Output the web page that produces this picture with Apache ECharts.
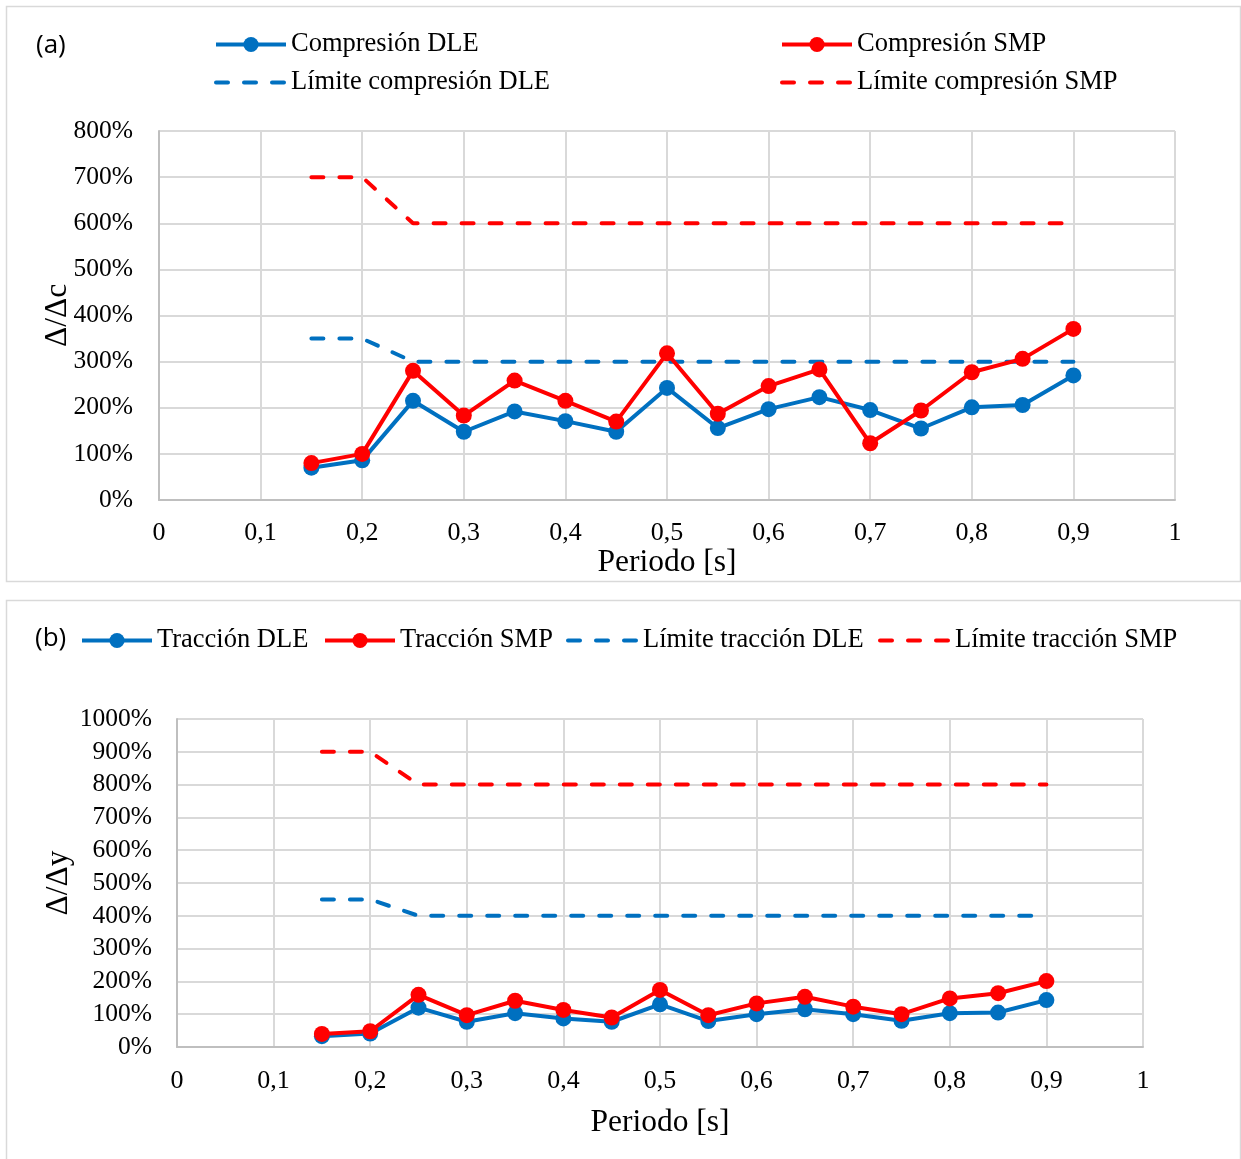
<!DOCTYPE html>
<html>
<head>
<meta charset="utf-8">
<script src="https://cdn.jsdelivr.net/npm/echarts@6/dist/echarts.min.js"></script>
<style>
  html, body { margin: 0; padding: 0; background: #ffffff; }
  #chart { width: 1241px; height: 1159px; }
</style>
</head>
<body>
<div id="chart"></div>
<script>
// Periods [s] shared by every series
const periods = [0.15, 0.2, 0.25, 0.3, 0.35, 0.4, 0.45, 0.5, 0.55, 0.6, 0.65, 0.7, 0.75, 0.8, 0.85, 0.9];

// (a) compression ratios Δ/Δc [%]
const compresionDLE = [70, 86, 215, 148, 192, 171, 148, 243, 156, 197, 223, 195, 155, 201, 206, 270];
const compresionSMP = [80, 100, 280, 183, 259, 215, 170, 318, 187, 247, 283, 123, 194, 277, 306, 371];
const limiteCompresionDLE = [350, 350, 300, 300, 300, 300, 300, 300, 300, 300, 300, 300, 300, 300, 300, 300];
const limiteCompresionSMP = [700, 700, 600, 600, 600, 600, 600, 600, 600, 600, 600, 600, 600, 600, 600, 600];

// (b) tension ratios Δ/Δy [%]
const traccionDLE = [33, 41, 120, 77, 103, 87, 77, 130, 79, 100, 115, 100, 80, 103, 105, 143];
const traccionSMP = [40, 48, 159, 97, 141, 113, 90, 174, 97, 133, 153, 123, 100, 148, 164, 201];
const limiteTraccionDLE = [450, 450, 400, 400, 400, 400, 400, 400, 400, 400, 400, 400, 400, 400, 400, 400];
const limiteTraccionSMP = [900, 900, 800, 800, 800, 800, 800, 800, 800, 800, 800, 800, 800, 800, 800, 800];

const BLUE = '#0070c0';
const RED = '#ff0000';
const GRID = '#d9d9d9';
const AXIS = '#bfbfbf';
const SERIF = '"Liberation Serif", "Times New Roman", serif';
const SANS = '"Open Sans", "Liberation Sans", sans-serif';
const DASH = [12, 16];

const pairs = vals => periods.map((p, i) => [p, vals[i]]);
const commaDec = v => String(Math.round(v * 10) / 10).replace('.', ',');

function lineSeries(name, vals, color, idx, dashed) {
  const s = {
    name: name,
    type: 'line',
    xAxisIndex: idx,
    yAxisIndex: idx,
    data: pairs(vals),
    color: color,
    lineStyle: { color: color, width: 4, type: dashed ? DASH : 'solid', cap: dashed ? 'round' : 'butt' },
    itemStyle: { color: color },
    animation: false
  };
  if (dashed) {
    s.symbol = 'none';
    s.showSymbol = false;
    s.z = 1;
  } else {
    s.symbol = 'circle';
    s.symbolSize = 16;
    s.z = 3;
  }
  return s;
}

function xAxis(idx, gap, margin) {
  return {
    type: 'value', gridIndex: idx, min: 0, max: 1, interval: 0.1,
    name: 'Periodo [s]', nameLocation: 'middle', nameGap: gap, nameMoveOverlap: false,
    nameTextStyle: { fontFamily: SERIF, fontSize: 31.5, color: '#000' },
    axisLine: { show: true, lineStyle: { color: AXIS, width: 2 } },
    axisTick: { show: false },
    axisLabel: { fontFamily: SERIF, fontSize: 26, color: '#000', margin: margin, formatter: commaDec },
    splitLine: { show: true, lineStyle: { color: GRID, width: 2 } }
  };
}

function yAxis(idx, name, max, gap, margin) {
  return {
    type: 'value', gridIndex: idx, min: 0, max: max, interval: 100,
    name: name, nameLocation: 'middle', nameGap: gap, nameRotate: 90, nameMoveOverlap: false,
    nameTextStyle: { fontFamily: SERIF, fontSize: 31.5, color: '#000' },
    axisLine: { show: true, lineStyle: { color: AXIS, width: 2 } },
    axisTick: { show: false },
    axisLabel: { fontFamily: SERIF, fontSize: 25.5, color: '#000', margin: margin, formatter: v => v + '%' },
    splitLine: { show: true, lineStyle: { color: GRID, width: 2 } }
  };
}

function legendItem(name, left, top, dashed) {
  return {
    data: [name], left: left, top: top, orient: 'horizontal',
    itemWidth: 70, itemHeight: 19, itemGap: 0, padding: 0,
    lineStyle: { width: 4 },
    itemStyle: dashed ? { opacity: 0 } : {},
    textStyle: { fontFamily: SERIF, fontSize: 26.5, color: '#000' },
    selectedMode: false
  };
}

const chart = echarts.init(document.getElementById('chart'), null, { renderer: 'canvas' });
chart.setOption({
  backgroundColor: '#ffffff',
  animation: false,
  graphic: [
    { type: 'rect', shape: { x: 6.5, y: 6.5, width: 1234, height: 575 }, style: { fill: 'none', stroke: GRID, lineWidth: 1.5 } },
    { type: 'rect', shape: { x: 6.5, y: 600.5, width: 1234, height: 560 }, style: { fill: 'none', stroke: GRID, lineWidth: 1.5 } },
    { type: 'text', left: 36, top: 33, style: { text: '(a)', font: '26px ' + SANS, fill: '#000' } },
    { type: 'text', left: 35, top: 626, style: { text: '(b)', font: '26px ' + SANS, fill: '#000' } }
  ],
  legend: [
    legendItem('Compresión DLE', 214, 31, false),
    legendItem('Compresión SMP', 780, 31, false),
    legendItem('Límite compresión DLE', 214, 69, true),
    legendItem('Límite compresión SMP', 780, 69, true),
    legendItem('Tracción DLE', 80, 627, false),
    legendItem('Tracción SMP', 323, 627, false),
    legendItem('Límite tracción DLE', 566, 627, true),
    legendItem('Límite tracción SMP', 878, 627, true)
  ],
  grid: [
    { left: 159, right: 66, top: 131, height: 369 },
    { left: 177, right: 98, top: 719, height: 328 }
  ],
  xAxis: [xAxis(0, 47, 20), xAxis(1, 60, 21)],
  yAxis: [yAxis(0, 'Δ/Δc', 800, 85, 26), yAxis(1, 'Δ/Δy', 1000, 102, 25)],
  series: [
    lineSeries('Límite compresión DLE', limiteCompresionDLE, BLUE, 0, true),
    lineSeries('Límite compresión SMP', limiteCompresionSMP, RED, 0, true),
    lineSeries('Compresión DLE', compresionDLE, BLUE, 0, false),
    lineSeries('Compresión SMP', compresionSMP, RED, 0, false),
    lineSeries('Límite tracción DLE', limiteTraccionDLE, BLUE, 1, true),
    lineSeries('Límite tracción SMP', limiteTraccionSMP, RED, 1, true),
    lineSeries('Tracción DLE', traccionDLE, BLUE, 1, false),
    lineSeries('Tracción SMP', traccionSMP, RED, 1, false)
  ]
});
</script>
</body>
</html>
